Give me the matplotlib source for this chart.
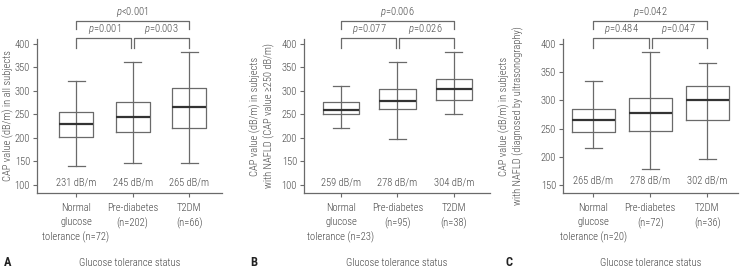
import matplotlib
matplotlib.use("Agg")
import matplotlib.pyplot as plt
from matplotlib.transforms import blended_transform_factory
from matplotlib import font_manager

names = {f.name for f in font_manager.fontManager.ttflist}
FONT = None
for cand in ["Roboto Condensed", "Archivo Narrow", "Liberation Sans Narrow", "Barlow Condensed",
             "Fira Sans Condensed"]:
    if cand in names:
        FONT = cand
        break
if FONT is None:
    FONT = "DejaVu Sans"
    plt.rcParams['font.stretch'] = 'condensed'
plt.rcParams['font.family'] = [FONT, 'DejaVu Sans']
plt.rcParams['font.weight'] = 300
plt.rcParams['mathtext.fontset'] = 'custom'
plt.rcParams['mathtext.rm'] = FONT + ':light'
plt.rcParams['mathtext.it'] = FONT + ':italic:light'

# ---------------- data ----------------
categories_A = ["Normal\nglucose\ntolerance (n=72)", "Pre-diabetes\n(n=202)", "T2DM\n(n=66)"]
categories_B = ["Normal\nglucose\ntolerance (n=23)", "Pre-diabetes\n(n=95)", "T2DM\n(n=38)"]
categories_C = ["Normal\nglucose\ntolerance (n=20)", "Pre-diabetes\n(n=72)", "T2DM\n(n=36)"]

whislo_A = [140, 147, 147]
q1_A = [202, 212, 220]
med_A = [230, 245, 265]
q3_A = [254, 276, 307]
whishi_A = [320, 362, 382]
labels_A = ["231 dB/m", "245 dB/m", "265 dB/m"]
p_A = ["<0.001", "=0.001", "=0.003"]

whislo_B = [220, 198, 250]
q1_B = [250, 262, 280]
med_B = [259, 278, 304]
q3_B = [276, 304, 325]
whishi_B = [310, 362, 382]
labels_B = ["259 dB/m", "278 dB/m", "304 dB/m"]
p_B = ["=0.006", "=0.077", "=0.026"]

whislo_C = [215, 178, 196]
q1_C = [245, 246, 265]
med_C = [265, 278, 301]
q3_C = [285, 305, 325]
whishi_C = [335, 386, 366]
labels_C = ["265 dB/m", "278 dB/m", "302 dB/m"]
p_C = ["=0.042", "=0.484", "=0.047"]

ylabels = ["CAP value (dB/m) in all subjects",
           "CAP value (dB/m) in subjects\nwith NAFLD (CAP value \u2265250 dB/m)",
           "CAP value (dB/m) in subjects\nwith NAFLD (diagnosed by ultrasonography)"]
yticks_AB = [100, 150, 200, 250, 300, 350, 400]
yticks_C = [150, 200, 250, 300, 350, 400]
panel_letters = ["A", "B", "C"]
xlabel = "Glucose tolerance status"

# ---------------- layout ----------------
W, H = 740, 269
fig = plt.figure(figsize=(W / 100, H / 100), dpi=100)

LINE = "#6a6a6a"
TEXT = "#444444"
FS = 7.6

panels = [
    dict(left=37, right=222, ylim=(83, 410), xlim=(0.31, 3.58), width=0.6, yticks=yticks_AB,
         cats=categories_A, lo=whislo_A, q1=q1_A, med=med_A, q3=q3_A, hi=whishi_A,
         lab=labels_A, p=p_A, lab_y=182, ylab_x=8, letter_x=4),
    dict(left=304, right=490, ylim=(83, 410), xlim=(0.345, 3.64), width=0.65, yticks=yticks_AB,
         cats=categories_B, lo=whislo_B, q1=q1_B, med=med_B, q3=q3_B, hi=whishi_B,
         lab=labels_B, p=p_B, lab_y=182, ylab_x=262, letter_x=250),
    dict(left=563, right=738, ylim=(136, 409), xlim=(0.47, 3.54), width=0.75, yticks=yticks_C,
         cats=categories_C, lo=whislo_C, q1=q1_C, med=med_C, q3=q3_C, hi=whishi_C,
         lab=labels_C, p=p_C, lab_y=180, ylab_x=511, letter_x=505),
]

top_px, bot_px = 39, 193
for i, P in enumerate(panels):
    ax = fig.add_axes([P['left'] / W, (H - bot_px) / H, (P['right'] - P['left']) / W,
                       (bot_px - top_px) / H])
    pos = [1, 2, 3]
    stats = []
    for k in range(3):
        stats.append(dict(whislo=P['lo'][k], q1=P['q1'][k], med=P['med'][k],
                          q3=P['q3'][k], whishi=P['hi'][k], fliers=[]))
    ax.bxp(stats, positions=pos, widths=P['width'], showfliers=False,
           boxprops=dict(color=LINE, linewidth=0.9),
           whiskerprops=dict(color=LINE, linewidth=0.9),
           capprops=dict(color=LINE, linewidth=0.9),
           medianprops=dict(color="#333333", linewidth=1.6),
           capwidths=0.3, manage_ticks=False)
    ax.vlines(pos, P['q1'], P['q3'], color=LINE, linewidth=0.9)

    ax.set_xlim(*P['xlim'])
    ax.set_ylim(*P['ylim'])
    ax.set_yticks(P['yticks'])
    ax.set_xticks(pos)
    ax.set_xticklabels(P['cats'], fontsize=FS, color=TEXT, linespacing=1.55)
    ax.tick_params(axis='x', length=3, width=0.8, color=LINE, pad=4)
    ax.tick_params(axis='y', length=3, width=0.8, color=LINE, labelsize=FS, labelcolor=TEXT, pad=2)
    for s in ['top', 'right']:
        ax.spines[s].set_visible(False)
    for s in ['left', 'bottom']:
        ax.spines[s].set_color(LINE)
        ax.spines[s].set_linewidth(0.9)

    # median labels
    tr = blended_transform_factory(ax.transData, ax.transAxes)
    axh = bot_px - top_px
    yl = (bot_px - P['lab_y']) / axh
    for k in range(3):
        ax.text(pos[k], yl, P['lab'][k], transform=tr, ha='center', va='center',
                fontsize=FS, color=TEXT)

    # brackets
    def fy(px):
        return (bot_px - px) / axh
    low_line, low_leg, up_line, up_leg = fy(38), fy(48), fy(21), fy(29)
    g = 0.03
    ax.plot([1, 1, 3, 3], [up_leg, up_line, up_line, up_leg], transform=tr,
            color=LINE, lw=0.9, clip_on=False)
    ax.plot([1, 1, 2 - g, 2 - g], [low_leg, low_line, low_line, low_leg], transform=tr,
            color=LINE, lw=0.9, clip_on=False)
    ax.plot([2 + g, 2 + g, 3, 3], [low_leg, low_line, low_line, low_leg], transform=tr,
            color=LINE, lw=0.9, clip_on=False)
    ax.text(2, fy(12), r"$\mathit{p}$" + P['p'][0], transform=tr, ha='center', va='center',
            fontsize=FS, color=TEXT)
    ax.text(1.5, fy(29), r"$\mathit{p}$" + P['p'][1], transform=tr, ha='center', va='center',
            fontsize=FS, color=TEXT)
    ax.text(2.5, fy(29), r"$\mathit{p}$" + P['p'][2], transform=tr, ha='center', va='center',
            fontsize=FS, color=TEXT)

    # y label
    fig.text(P['ylab_x'] / W, (H - 116) / H, ylabels[i], rotation=90, ha='center', va='center',
             fontsize=FS, color=TEXT, linespacing=1.3)
    # x label and letter
    cx = (P['left'] + P['right']) / 2
    fig.text(cx / W, (H - 263) / H, xlabel, ha='center', va='center', fontsize=FS, color=TEXT)
    fig.text(P['letter_x'] / W, (H - 263) / H, panel_letters[i], ha='left', va='center',
             fontsize=9, fontweight='bold', color="#222222")

fig.savefig("out.png", dpi=100)
